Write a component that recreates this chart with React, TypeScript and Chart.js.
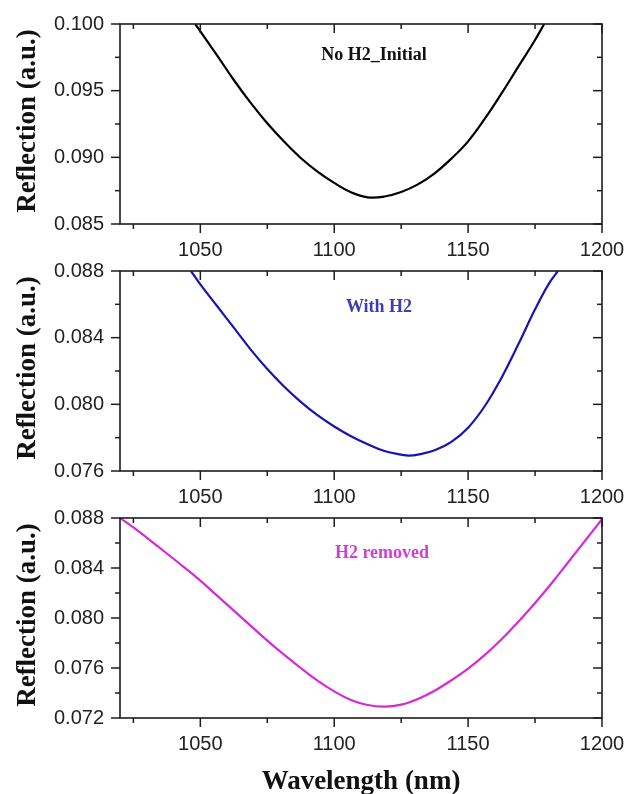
import React, { useEffect, useRef } from "react";
import { Chart, registerables } from "chart.js";

Chart.register(...registerables);

// ---- data ----
const wavelengthA = [1048.1, 1050, 1056.25, 1062.5, 1068.75, 1075, 1081.25, 1087.5, 1093.75, 1100, 1106.25, 1112.5, 1118.75, 1125, 1131.25, 1137.5, 1143.75, 1150, 1156.25, 1162.5, 1168.75, 1175, 1178.4];
const reflectionA = [0.1, 0.09945, 0.09765, 0.0958, 0.0941, 0.09255, 0.09118, 0.08995, 0.08893, 0.08808, 0.08738, 0.087, 0.08706, 0.0874, 0.08797, 0.0888, 0.0899, 0.0912, 0.0929, 0.0948, 0.0968, 0.0988, 0.1];

const wavelengthB = [1046.5, 1050, 1056.25, 1062.5, 1068.75, 1075, 1081.25, 1087.5, 1093.75, 1100, 1106.25, 1112.5, 1118.75, 1125, 1128, 1131.25, 1137.5, 1143.75, 1150, 1156.25, 1162.5, 1168.75, 1175, 1180, 1183.5];
const reflectionB = [0.088, 0.0872, 0.0859, 0.0846, 0.0833, 0.08212, 0.08107, 0.08015, 0.07935, 0.07867, 0.07809, 0.07761, 0.0772, 0.07698, 0.07692, 0.07698, 0.07725, 0.07775, 0.0786, 0.0799, 0.0816, 0.0836, 0.0857, 0.0872, 0.088];

const wavelengthC = [1020, 1025, 1031.25, 1037.5, 1043.75, 1050, 1056.25, 1062.5, 1068.75, 1075, 1081.25, 1087.5, 1093.75, 1100, 1106.25, 1112.5, 1118.75, 1125, 1131.25, 1137.5, 1143.75, 1150, 1156.25, 1162.5, 1168.75, 1175, 1181.25, 1187.5, 1193.75, 1200];
const reflectionC = [0.088, 0.08725, 0.08621, 0.08516, 0.08409, 0.08299, 0.08179, 0.08059, 0.07939, 0.07819, 0.07707, 0.076, 0.07499, 0.07413, 0.07344, 0.07304, 0.07291, 0.07307, 0.07352, 0.07418, 0.07502, 0.07595, 0.07705, 0.0783, 0.0797, 0.0812, 0.0828, 0.0845, 0.0862, 0.0879];

const xMajorTicks = [1050, 1100, 1150, 1200];
const xMinorTicks = [1025, 1075, 1125, 1175];
const yTicksA = [0.085, 0.09, 0.095, 0.1];
const yMinorA = [0.0875, 0.0925, 0.0975];
const yTicksB = [0.076, 0.08, 0.084, 0.088];
const yMinorB = [0.078, 0.082, 0.086];
const yTicksC = [0.072, 0.076, 0.08, 0.084, 0.088];
const yMinorC = [0.074, 0.078, 0.082, 0.086];

const seriesLabels = ["No H2_Initial", "With H2", "H2 removed"];
const yTitle = "Reflection (a.u.)";
const xTitle = "Wavelength (nm)";

// ---- styles ----
const SERIF = '"Liberation Serif", "Times New Roman", serif';
const SANS = '"Liberation Sans", Arial, sans-serif';
const AXIS_COLOR = "#1c1c1c";

type PanelCfg = {
  top: number;
  height: number;
  padTop: number;
  axisH: number;
  xs: number[];
  ys: number[];
  color: string;
  labelColor: string;
  yMin: number;
  yMax: number;
  yTicks: number[];
  yMinor: number[];
  label: string;
  labelX: number;
  labelBaseline: number;
  showXTitle: boolean;
};

const panels: PanelCfg[] = [
  { top: 0, height: 262, padTop: 24, axisH: 38, xs: wavelengthA, ys: reflectionA, color: "#000000", labelColor: "#111111", yMin: 0.085, yMax: 0.1, yTicks: yTicksA, yMinor: yMinorA, label: seriesLabels[0], labelX: 374, labelBaseline: 60, showXTitle: false },
  { top: 262, height: 248, padTop: 9, axisH: 39, xs: wavelengthB, ys: reflectionB, color: "#1515b0", labelColor: "#3a40b4", yMin: 0.076, yMax: 0.088, yTicks: yTicksB, yMinor: yMinorB, label: seriesLabels[1], labelX: 379, labelBaseline: 312, showXTitle: false },
  { top: 510, height: 284, padTop: 8, axisH: 76, xs: wavelengthC, ys: reflectionC, color: "#d52ad5", labelColor: "#d040d0", yMin: 0.072, yMax: 0.088, yTicks: yTicksC, yMinor: yMinorC, label: seriesLabels[2], labelX: 382, labelBaseline: 558, showXTitle: true },
];

function Panel({ cfg }: { cfg: PanelCfg }) {
  const ref = useRef<HTMLCanvasElement | null>(null);

  useEffect(() => {
    if (!ref.current) return;
    const decor = {
      id: "decor" + cfg.top,
      afterDraw(chart: any) {
        const { ctx, chartArea: a, scales } = chart;
        const xs = scales.x;
        const ys = scales.y;
        ctx.save();
        ctx.strokeStyle = AXIS_COLOR;
        ctx.lineWidth = 1.6;
        ctx.strokeRect(a.left, a.top, a.right - a.left, a.bottom - a.top);
        ctx.lineWidth = 1.5;
        const seg = (x1: number, y1: number, x2: number, y2: number) => {
          ctx.beginPath();
          ctx.moveTo(x1, y1);
          ctx.lineTo(x2, y2);
          ctx.stroke();
        };
        xMajorTicks.forEach((v) => {
          const p = xs.getPixelForValue(v);
          seg(p, a.bottom, p, a.bottom + 9);
          seg(p, a.top, p, a.top + 9);
        });
        xMinorTicks.forEach((v) => {
          const p = xs.getPixelForValue(v);
          seg(p, a.bottom, p, a.bottom + 5);
          seg(p, a.top, p, a.top + 5);
        });
        cfg.yTicks.forEach((v) => {
          const p = ys.getPixelForValue(v);
          seg(a.left - 9, p, a.left, p);
          seg(a.right - 9, p, a.right, p);
        });
        cfg.yMinor.forEach((v) => {
          const p = ys.getPixelForValue(v);
          seg(a.left - 5, p, a.left, p);
          seg(a.right - 5, p, a.right, p);
        });
        // y title
        ctx.save();
        ctx.fillStyle = "#111111";
        ctx.font = `bold 27px ${SERIF}`;
        ctx.translate(28, (a.top + a.bottom) / 2 - 3);
        ctx.rotate(-Math.PI / 2);
        ctx.textAlign = "center";
        ctx.textBaseline = "middle";
        ctx.fillText(yTitle, 0, 0);
        ctx.restore();
        // series annotation
        ctx.fillStyle = cfg.labelColor;
        ctx.font = `bold 18px ${SERIF}`;
        ctx.textAlign = "center";
        ctx.textBaseline = "alphabetic";
        ctx.fillText(cfg.label, cfg.labelX, cfg.labelBaseline - cfg.top);
        // x title
        if (cfg.showXTitle) {
          ctx.fillStyle = "#111111";
          ctx.font = `bold 27px ${SERIF}`;
          ctx.fillText(xTitle, (a.left + a.right) / 2, 789 - cfg.top);
        }
        ctx.restore();
      },
    };

    const chart = new Chart(ref.current, {
      type: "line",
      data: {
        datasets: [
          {
            data: cfg.xs.map((x, i) => ({ x, y: cfg.ys[i] })),
            borderColor: cfg.color,
            borderWidth: 2.2,
            pointRadius: 0,
            fill: false,
            tension: 0.4,
            cubicInterpolationMode: "default",
          },
        ],
      },
      options: {
        animation: false,
        responsive: false,
        maintainAspectRatio: false,
        events: [],
        layout: { padding: { top: cfg.padTop, right: 25, left: 0, bottom: 0 } },
        plugins: { legend: { display: false }, tooltip: { enabled: false }, title: { display: false } },
        scales: {
          x: {
            type: "linear",
            min: 1020,
            max: 1200,
            afterBuildTicks: (s: any) => {
              s.ticks = xMajorTicks.map((v) => ({ value: v }));
            },
            afterFit: (s: any) => {
              s.height = cfg.axisH;
              s.paddingLeft = 0;
              s.paddingRight = 0;
            },
            ticks: {
              autoSkip: false,
              maxRotation: 0,
              padding: 5,
              color: "#222222",
              font: { family: SANS, size: 20 },
              callback: (v: any) => String(v),
            },
            grid: { drawOnChartArea: false, drawTicks: true, tickLength: 9, tickColor: "rgba(0,0,0,0)" },
            border: { display: false },
          },
          y: {
            type: "linear",
            min: cfg.yMin,
            max: cfg.yMax,
            afterBuildTicks: (s: any) => {
              s.ticks = cfg.yTicks.map((v) => ({ value: v }));
            },
            afterFit: (s: any) => {
              s.width = 120;
              s.paddingTop = 0;
              s.paddingBottom = 0;
            },
            ticks: {
              autoSkip: false,
              padding: 7,
              color: "#222222",
              font: { family: SANS, size: 20 },
              callback: (v: any) => Number(v).toFixed(3),
            },
            grid: { drawOnChartArea: false, drawTicks: true, tickLength: 9, tickColor: "rgba(0,0,0,0)" },
            border: { display: false },
          },
        },
      },
      plugins: [decor],
    } as any);
    return () => chart.destroy();
  }, [cfg]);

  return (
    <canvas
      ref={ref}
      width={627}
      height={cfg.height}
      style={{ position: "absolute", left: 0, top: cfg.top, width: 627, height: cfg.height }}
    />
  );
}

export default function App() {
  return (
    <div style={{ position: "absolute", left: 0, top: 0, width: 627, height: 794, background: "#ffffff", overflow: "hidden" }}>
      {panels.map((p) => (
        <Panel key={p.top} cfg={p} />
      ))}
    </div>
  );
}
